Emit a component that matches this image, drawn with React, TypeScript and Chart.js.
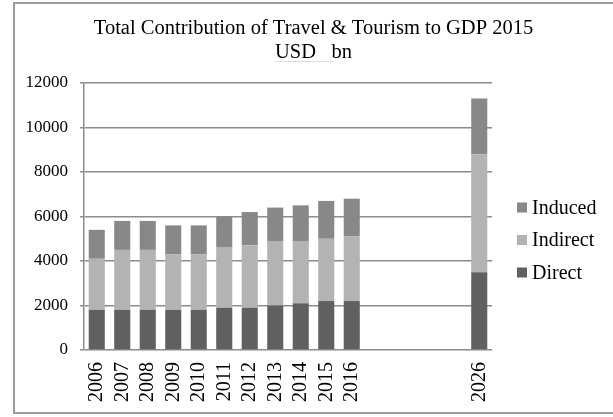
import React, { useEffect, useRef } from 'react';
import { Chart, registerables } from 'chart.js';

Chart.register(...registerables);

const categories = ['2006', '2007', '2008', '2009', '2010', '2011', '2012', '2013', '2014', '2015', '2016', '', '', '', '', '2026'];
const direct = [1800, 1800, 1800, 1800, 1800, 1900, 1900, 2000, 2100, 2200, 2200, null, null, null, null, 3500];
const indirect = [2300, 2700, 2700, 2500, 2500, 2700, 2800, 2900, 2800, 2800, 2900, null, null, null, null, 5300];
const induced = [1300, 1300, 1300, 1300, 1300, 1400, 1500, 1500, 1600, 1700, 1700, null, null, null, null, 2500];
const seriesNames = ['Direct', 'Indirect', 'Induced'];
const seriesColors = ['#606060', '#b3b3b3', '#888888'];
const titleLines = ['Total Contribution of Travel & Tourism to GDP 2015', 'USD   bn'];
const yMax = 12000;
const yStep = 2000;

const FONT = '"Liberation Serif", "Times New Roman", serif';

const decor = {
  id: 'decor',
  beforeDraw(chart: any) {
    const ctx = chart.ctx;
    ctx.save();
    ctx.strokeStyle = '#9b9b9b';
    ctx.lineWidth = 2;
    ctx.strokeRect(14, 3, chart.width + 10, 410);
    ctx.restore();
  },
  afterDraw(chart: any) {
    const ctx = chart.ctx;
    const area = chart.chartArea;
    ctx.save();
    // title
    ctx.fillStyle = '#000';
    ctx.font = `20.5px ${FONT}`;
    ctx.textAlign = 'center';
    ctx.textBaseline = 'alphabetic';
    const cx = 313.5;
    ctx.fillText(titleLines[0], cx, 34);
    ctx.fillText(titleLines[1], cx, 57.5);
    // faint spell-check underline
    const w2 = ctx.measureText(titleLines[1]).width;
    ctx.strokeStyle = 'rgba(235,160,180,0.45)';
    ctx.lineWidth = 1;
    ctx.beginPath();
    ctx.moveTo(cx - w2 / 2, 61.5);
    ctx.lineTo(cx + w2 / 2 - 18, 61.5);
    ctx.stroke();
    // legend
    const items = chart.data.datasets.map((d: any) => ({ label: d.label, color: d.backgroundColor })).reverse();
    const x0 = area.right + 25;
    const y0 = area.top + 124.5;
    ctx.font = `20px ${FONT}`;
    ctx.textAlign = 'left';
    ctx.textBaseline = 'middle';
    items.forEach((it: any, i: number) => {
      const y = y0 + i * 32.5;
      ctx.fillStyle = it.color;
      ctx.fillRect(x0, y - 5, 10, 10);
      ctx.fillStyle = '#000';
      ctx.fillText(it.label, x0 + 15, y + 1);
    });
    ctx.restore();
  },
};

export default function App() {
  const ref = useRef<HTMLCanvasElement>(null);
  useEffect(() => {
    if (!ref.current) return;
    const seriesData = [direct, indirect, induced];
    const chart = new Chart(ref.current, {
      type: 'bar',
      data: {
        labels: categories,
        datasets: seriesNames.map((name, i) => ({
          label: name,
          data: seriesData[i] as any,
          backgroundColor: seriesColors[i],
          borderWidth: 0,
          barPercentage: 0.63,
          categoryPercentage: 1,
        })),
      },
      options: {
        responsive: false,
        devicePixelRatio: 1,
        animation: false,
        layout: { padding: { top: 83, right: 121, bottom: 0, left: 0 } },
        plugins: {
          legend: { display: false },
          title: { display: false },
          tooltip: { enabled: false },
        },
        scales: {
          x: {
            stacked: true,
            grid: { display: false, drawTicks: false },
            border: { display: false },
            ticks: {
              autoSkip: false,
              minRotation: 90,
              maxRotation: 90,
              color: '#000',
              padding: 12,
              font: { size: 20, family: FONT },
            },
            afterFit(s: any) {
              s.height = 67;
            },
          },
          y: {
            stacked: true,
            min: 0,
            max: yMax,
            ticks: {
              stepSize: yStep,
              color: '#000',
              padding: 12,
              font: { size: 17, family: FONT },
              callback: (v: any) => String(v),
            },
            grid: { color: '#8c8c8c', lineWidth: 1.5, tickLength: 4, drawTicks: true },
            border: { display: true, color: '#8c8c8c', width: 1.5 },
            afterFit(s: any) {
              s.width = 84;
            },
          },
        },
      },
      plugins: [decor],
    });
    return () => chart.destroy();
  }, []);
  return (
    <div style={{ position: 'absolute', left: 0, top: 0, width: 613, height: 417 }}>
      <canvas ref={ref} width={613} height={417} style={{ display: 'block' }} />
    </div>
  );
}
